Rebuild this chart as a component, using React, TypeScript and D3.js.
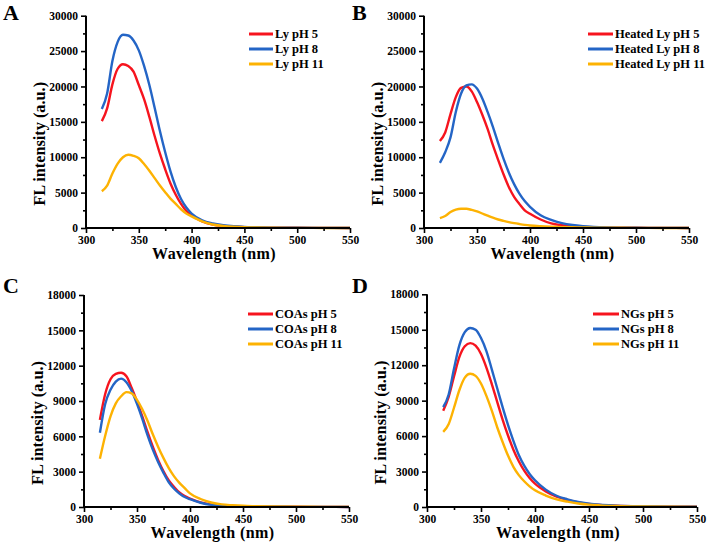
import React, { useEffect, useRef } from 'react';
import * as d3 from 'd3';

// ---------- data ----------
const WAVELENGTHS = [315, 320, 325, 330, 335, 340, 345, 350, 355, 360, 365, 370, 375, 380, 385, 390, 395, 400,
  410, 420, 430, 440, 450, 460, 475, 500, 525, 550];

const X_TICKS = [300, 350, 400, 450, 500, 550];
const X_MINOR = [325, 375, 425, 475, 525];
const Y_TICKS_LY = [0, 5000, 10000, 15000, 20000, 25000, 30000];
const Y_MINOR_LY = [2500, 7500, 12500, 17500, 22500, 27500];
const Y_TICKS_NP = [0, 3000, 6000, 9000, 12000, 15000, 18000];
const Y_MINOR_NP = [1500, 4500, 7500, 10500, 13500, 16500];

const COLORS = ['#f6141e', '#2465c6', '#fdb202'];

const LABELS_A = ['Ly pH 5', 'Ly pH 8', 'Ly pH 11'];
const LABELS_B = ['Heated Ly pH 5', 'Heated Ly pH 8', 'Heated Ly pH 11'];
const LABELS_C = ['COAs pH 5', 'COAs pH 8', 'COAs pH 11'];
const LABELS_D = ['NGs pH 5', 'NGs pH 8', 'NGs pH 11'];

const A_PH5 = [15100, 16900, 20300, 22500, 23150, 22900, 22100, 20200, 18200, 15700, 13000, 10500, 8300, 6300, 4700, 3400, 2400, 1800, 950, 500, 300, 200, 120, 80, 50, 25, 15, 10];
const A_PH8 = [16800, 19000, 23600, 26300, 27300, 27200, 26500, 25100, 22900, 20200, 17000, 13700, 10700, 8000, 5800, 4100, 2900, 2050, 1100, 650, 400, 250, 160, 110, 60, 30, 15, 10];
const A_PH11 = [5200, 6000, 7700, 9100, 10000, 10350, 10200, 9850, 9050, 8100, 7050, 6000, 5050, 4150, 3400, 2650, 2050, 1650, 950, 500, 300, 180, 110, 70, 40, 20, 10, 5];

const B_PH5 = [12300, 13500, 16100, 18500, 19800, 20000, 19300, 17800, 16000, 14000, 11700, 9600, 7600, 5800, 4400, 3400, 2500, 2000, 1200, 650, 380, 220, 140, 90, 50, 25, 15, 10];
const B_PH8 = [9200, 10700, 12800, 16400, 19000, 20150, 20300, 19700, 18300, 16400, 14300, 12000, 9800, 7850, 6200, 4850, 3800, 3000, 1800, 1150, 700, 420, 250, 150, 80, 35, 15, 10];
const B_PH11 = [1400, 1700, 2250, 2600, 2720, 2720, 2550, 2350, 2050, 1750, 1450, 1200, 1000, 820, 680, 560, 450, 360, 250, 180, 130, 100, 80, 60, 40, 20, 10, 5];

const C_PH5 = [7400, 9600, 10850, 11300, 11400, 11100, 10100, 8950, 7700, 6350, 5100, 3980, 3030, 2250, 1700, 1230, 920, 720, 400, 220, 130, 80, 50, 35, 25, 15, 10, 5];
const C_PH8 = [6300, 8750, 9950, 10650, 10900, 10600, 9850, 8750, 7480, 6080, 4850, 3800, 2900, 2100, 1550, 1150, 850, 660, 360, 180, 110, 70, 45, 30, 20, 12, 8, 5];
const C_PH11 = [4100, 6050, 7700, 8800, 9400, 9750, 9650, 9100, 8300, 7300, 6150, 5100, 4150, 3300, 2600, 2050, 1600, 1150, 680, 380, 220, 150, 100, 70, 40, 20, 12, 8];

const D_PH5 = [8150, 9300, 11050, 12700, 13600, 13870, 13650, 12950, 11800, 10400, 8900, 7400, 6050, 4850, 3870, 3070, 2450, 1970, 1320, 880, 600, 380, 250, 170, 100, 50, 25, 15];
const D_PH8 = [8450, 9500, 11700, 13700, 14800, 15150, 15000, 14300, 13200, 11650, 10050, 8450, 6950, 5600, 4400, 3500, 2800, 2260, 1470, 950, 650, 420, 280, 190, 120, 60, 30, 20];
const D_PH11 = [6350, 7000, 8400, 9900, 10950, 11280, 11100, 10450, 9400, 8150, 6750, 5500, 4350, 3400, 2700, 2180, 1750, 1410, 970, 650, 450, 300, 200, 140, 85, 40, 20, 10];

// ---------- layout ----------
const LAYOUT = [
  { letter: 'A', x0: 86, x1: 350, yTop: 15.7, yBot: 228, lx: 249, ly: 34, lw: 24 },
  { letter: 'B', x0: 424, x1: 689, yTop: 15.7, yBot: 228, lx: 588, ly: 34, lw: 25 },
  { letter: 'C', x0: 84, x1: 349, yTop: 295, yBot: 507, lx: 248, ly: 314, lw: 25 },
  { letter: 'D', x0: 427, x1: 697, yTop: 294.3, yBot: 507, lx: 593, ly: 314, lw: 26 },
];

const PANELS = [
  { series: [A_PH5, A_PH8, A_PH11], labels: LABELS_A, yTicks: Y_TICKS_LY, yMinor: Y_MINOR_LY },
  { series: [B_PH5, B_PH8, B_PH11], labels: LABELS_B, yTicks: Y_TICKS_LY, yMinor: Y_MINOR_LY },
  { series: [C_PH5, C_PH8, C_PH11], labels: LABELS_C, yTicks: Y_TICKS_NP, yMinor: Y_MINOR_NP },
  { series: [D_PH5, D_PH8, D_PH11], labels: LABELS_D, yTicks: Y_TICKS_NP, yMinor: Y_MINOR_NP },
];

const FONT = "'Liberation Serif', 'Times New Roman', serif";

export default function App() {
  const ref = useRef<SVGSVGElement | null>(null);

  useEffect(() => {
    const svg = d3.select(ref.current);
    svg.selectAll('*').remove();
    svg.append('rect').attr('width', 709).attr('height', 552).attr('fill', '#fff');

    PANELS.forEach((p, pi) => {
      const L = LAYOUT[pi];
      const yMax = p.yTicks[p.yTicks.length - 1];
      const x = d3.scaleLinear().domain([300, 550]).range([L.x0, L.x1]);
      const y = d3.scaleLinear().domain([0, yMax]).range([L.yBot, L.yTop]);
      const g = svg.append('g');

      // curves
      const line = d3.line<number>()
        .x((_, i) => x(WAVELENGTHS[i]))
        .y((v) => y(v))
        .curve(d3.curveMonotoneX);
      p.series.forEach((s, si) => {
        g.append('path').attr('d', line(s) as string).attr('fill', 'none')
          .attr('stroke', COLORS[si]).attr('stroke-width', 2.4).attr('stroke-linejoin', 'round');
      });

      // axes
      const styleAxis = (sel: any) => {
        sel.selectAll('text').attr('font-family', FONT).attr('font-weight', 'bold')
          .attr('font-size', 11.5).attr('fill', '#000');
        sel.selectAll('line').attr('stroke', '#000').attr('stroke-width', 1.6);
        sel.select('.domain').attr('stroke', '#000').attr('stroke-width', 2);
      };
      const xMinor = g.append('g').attr('transform', `translate(0,${L.yBot})`)
        .call(d3.axisBottom(x).tickValues(X_MINOR).tickSize(3).tickSizeOuter(0).tickFormat(() => ''));
      xMinor.select('.domain').remove();
      styleAxis(xMinor);
      const yMinor = g.append('g').attr('transform', `translate(${L.x0},0)`)
        .call(d3.axisLeft(y).tickValues(p.yMinor).tickSize(3).tickSizeOuter(0).tickFormat(() => ''));
      yMinor.select('.domain').remove();
      styleAxis(yMinor);

      const xAxis = g.append('g').attr('transform', `translate(0,${L.yBot})`)
        .call(d3.axisBottom(x).tickValues(X_TICKS).tickSize(5).tickSizeOuter(0).tickPadding(3).tickFormat(d3.format('d')));
      styleAxis(xAxis);
      const yAxis = g.append('g').attr('transform', `translate(${L.x0},0)`)
        .call(d3.axisLeft(y).tickValues(p.yTicks).tickSize(5).tickSizeOuter(0).tickPadding(3).tickFormat(d3.format('d')));
      styleAxis(yAxis);
      xAxis.select('.domain').attr('d', `M${L.x0 - 1},0H${L.x1}`);
      yAxis.select('.domain').attr('d', `M0,${L.yBot + 1}V${L.yTop}`);

      // titles
      g.append('text').attr('x', (L.x0 + L.x1) / 2 - 4).attr('y', L.yBot + 31)
        .attr('text-anchor', 'middle').attr('font-family', FONT).attr('font-weight', 'bold')
        .attr('font-size', 16).attr('letter-spacing', 0.4).text('Wavelength (nm)');
      const cy = (L.yTop + L.yBot) / 2 + 22;
      g.append('text').attr('transform', `translate(${L.x0 - 41},${cy}) rotate(-90)`)
        .attr('text-anchor', 'middle').attr('font-family', FONT).attr('font-weight', 'bold')
        .attr('font-size', 16.3).text('FL intensity (a.u.)');

      // panel letter
      g.append('text').attr('x', pi % 2 === 0 ? 3 : 352).attr('y', pi < 2 ? 20 : 293)
        .attr('font-family', FONT).attr('font-weight', 'bold').attr('font-size', 22).text(L.letter);

      // legend
      p.labels.forEach((lab, si) => {
        const yy = L.ly + si * 15;
        g.append('line').attr('x1', L.lx).attr('x2', L.lx + L.lw).attr('y1', yy).attr('y2', yy)
          .attr('stroke', COLORS[si]).attr('stroke-width', 3);
        g.append('text').attr('x', L.lx + L.lw + 2).attr('y', yy + 4)
          .attr('font-family', FONT).attr('font-weight', 'bold').attr('font-size', 12.5).text(lab);
      });
    });
  }, []);

  return (
    <svg ref={ref} width={709} height={552} style={{ position: 'absolute', left: 0, top: 0 }} />
  );
}
